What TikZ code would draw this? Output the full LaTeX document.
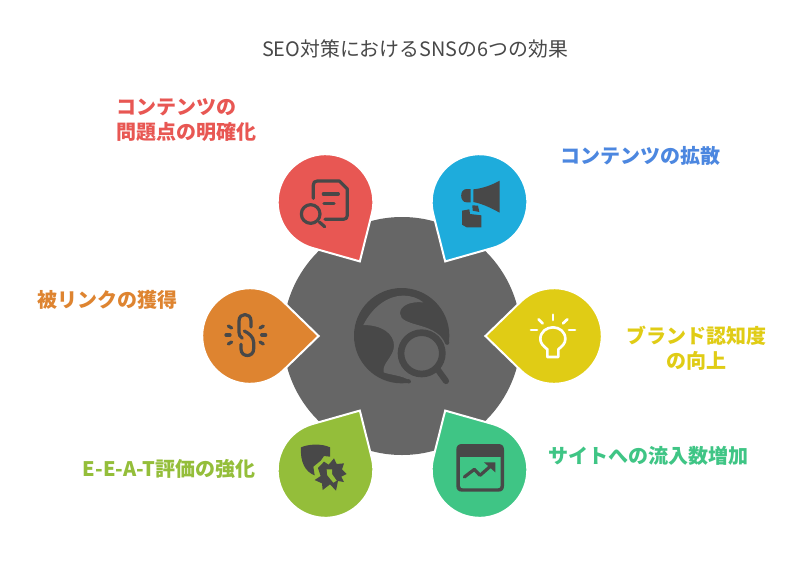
\documentclass[tikz,border=0pt]{standalone}
\usepackage{fontspec}
\setmainfont{Noto Sans CJK JP}
\definecolor{hubgray}{HTML}{666666}
\definecolor{icondark}{HTML}{484848}
\definecolor{pinred}{HTML}{E85753}
\definecolor{pinblue}{HTML}{1EACDC}
\definecolor{pinyellow}{HTML}{E0CC15}
\definecolor{pinteal}{HTML}{3FC585}
\definecolor{pinlime}{HTML}{94BE3A}
\definecolor{pinorange}{HTML}{DE8430}
\definecolor{textblue}{HTML}{4C87E0}
\tikzset{
  pinshape/.style={draw=white,line width=1.5pt,line join=miter},
  blurb/.style={font=\bfseries\fontsize{15}{18.6}\selectfont,inner sep=0pt},
  iconline/.style={draw=icondark,line width=2.4pt,line cap=round,line join=round,fill=none},
}
% center, direction of the tip, colour
\newcommand{\droplet}[3]{
  \draw[pinshape,fill=#3,shift={#1},rotate=#2]
    (68.6,0) -- (46.2:47.8) arc (46.2:313.8:47.8) -- cycle;
}
\begin{document}
\begin{tikzpicture}[x=0.75pt,y=-0.75pt]
\useasboundingbox (0,0) rectangle (804,576);
\fill[white] (0,0) rectangle (804,576);
\node[font=\fontsize{14.9}{18}\selectfont,text=icondark,inner sep=0pt] (title) at (415,48.5) {SEO対策におけるSNSの6つの効果};

\fill[hubgray] (402,336) circle (119);

\droplet{(325.5,202)}{-60}{pinred}
\droplet{(479.5,202)}{-120}{pinblue}
\droplet{(554,336)}{180}{pinyellow}
\droplet{(479.5,470)}{120}{pinteal}
\droplet{(325.5,470)}{60}{pinlime}
\droplet{(250,336)}{0}{pinorange}

% globe
\begin{scope}[shift={(340,275)},x=0.25pt,y=-0.25pt]
\fill[icondark] (185,182) circle (143);
\fill[hubgray] (70,150) .. controls (95,100) and (140,62) .. (190,62)
  .. controls (215,62) and (235,70) .. (250,82) .. controls (205,78) and (180,95) .. (180,115)
  .. controls (180,135) and (205,142) .. (240,152) .. controls (280,163) and (305,180) .. (315,205)
  -- (345,205) -- (345,340) -- (212,340) -- (212,318)
  .. controls (185,300) and (150,300) .. (131,292)
  .. controls (125,265) and (162,245) .. (162,212)
  .. controls (162,175) and (125,150) .. (70,150) -- cycle;
\fill[icondark] (321.5,203) circle (6.5);
\fill[icondark] (206,319) circle (6.5);
\draw[icondark,line width=5pt] (245,235) circle (62);
\draw[icondark,line width=4.6pt,line cap=round] (292,282) -- (318,318);
\end{scope}

% document and lens
\begin{scope}[shift={(190,140)},x=0.25pt,y=-0.25pt]
\draw[iconline] (370,175) -- (370,135) .. controls (370,127) and (374,123) .. (382,123) -- (448,123) -- (472,147) -- (472,226) .. controls (472,234) and (468,238) .. (460,238) -- (405,238);
\draw[iconline] (400,162) -- (445,162);
\draw[iconline] (402,190) -- (432,190);
\draw[iconline] (362,222) circle (28);
\draw[iconline] (388,246) -- (404,260);
\end{scope}

% megaphone
\begin{scope}[shift={(400,140)},x=0.25pt,y=-0.25pt]
\fill[icondark] (220,148) .. controls (250,145) and (275,135) .. (299,122) -- (299,218) .. controls (275,205) and (250,192) .. (220,186) -- cycle;
\fill[icondark] (212,147) -- (212,187) -- (200,187) .. controls (178,187) and (178,147) .. (200,147) -- cycle;
\fill[icondark] (217,196) -- (234,197) -- (238,216) -- (218,212) -- cycle;
\fill[icondark] (186,212) -- (208,208) -- (210,222) -- (244,226) -- (244,262) -- (200,262) -- (186,254) -- cycle;
\end{scope}

% bulb
\begin{scope}[shift={(400,140)},x=0.25pt,y=-0.25pt]
\draw[white,line width=2pt,line cap=round,line join=round] (442,651) -- (442,628) .. controls (430,618) and (421,610) .. (421,597) .. controls (421,575) and (440,562) .. (459,562) .. controls (478,562) and (496,575) .. (496,597) .. controls (496,610) and (487,618) .. (475,628) -- (475,651) -- cycle;
\draw[white,line width=2pt,line cap=round] (459,524) -- (459,540);
\draw[white,line width=2pt,line cap=round] (416,538) -- (428,550);
\draw[white,line width=2pt,line cap=round] (502,538) -- (489,550);
\draw[white,line width=2pt,line cap=round] (393,570) -- (411,570);
\draw[white,line width=2pt,line cap=round] (507,570) -- (525,570);
\end{scope}

% browser with trend
\begin{scope}[shift={(400,380)},x=0.25pt,y=-0.25pt]
\fill[icondark] (186,192) -- (295,192) .. controls (306,192) and (312,198) .. (312,209) -- (312,318) .. controls (312,329) and (306,335) .. (295,335) -- (186,335) .. controls (175,335) and (169,329) .. (169,318) -- (169,209) .. controls (169,198) and (175,192) .. (186,192) -- cycle;
\fill[pinteal] (180,231) -- (302,231) -- (302,316) .. controls (302,322) and (299,325) .. (293,325) -- (189,325) .. controls (183,325) and (180,322) .. (180,316) -- cycle;
\draw[iconline] (193,291) -- (223,268) -- (240,286) -- (272,258);
\fill[icondark] (252,247) -- (286,247) -- (286,277) -- cycle;
\end{scope}

% shield and badge
\begin{scope}[shift={(190,330)},x=0.25pt,y=-0.25pt]
\fill[icondark] (333,352) .. controls (355,342) and (395,340) .. (420,352) -- (420,380) -- (402,378) -- (392,392) -- (370,410) -- (374,436) .. controls (345,425) and (330,395) .. (333,352) -- cycle;
\fill[icondark] (402,395) -- (416,404) -- (432,385) -- (440,402) -- (462,400) -- (456,418) -- (470,432) -- (454,440) -- (462,456) -- (444,453) -- (438,482) -- (420,463) -- (398,480) -- (396,460) -- (374,450) -- (392,438) -- (384,414) -- cycle;
\fill[pinlime] (410,418) -- (426,418) -- (426,432) -- (440,452) -- (430,458) -- (412,436) -- cycle;
\end{scope}

% chain link
\begin{scope}[shift={(215,305)},x=0.25pt,y=-0.25pt]
\draw[iconline] (82,100) .. controls (75,95) and (72,90) .. (72,82) -- (72,48) .. controls (72,22) and (108,22) .. (108,48) -- (108,66);
\draw[iconline] (88,78) .. controls (100,84) and (116,95) .. (116,112) -- (116,132) .. controls (116,158) and (78,158) .. (78,132) -- (78,118);
\draw[iconline] (40,63) -- (50,69);
\draw[iconline] (33,90) -- (45,90);
\draw[iconline] (40,117) -- (50,111);
\draw[iconline] (145,63) -- (135,69);
\draw[iconline] (140,90) -- (152,90);
\draw[iconline] (145,117) -- (135,111);
\end{scope}

\node[blurb,text=pinred,anchor=west,align=left] (fixlabel) at (116,120) {コンテンツの\\問題点の明確化};
\node[blurb,text=textblue,anchor=west] (spreadlabel) at (560,156) {コンテンツの拡散};
\node[blurb,text=pinyellow,align=center] (brandlabel) at (696,348) {ブランド認知度\\の向上};
\node[blurb,text=pinteal,anchor=west] (trafficlabel) at (548,456) {サイトへの流入数増加};
\node[blurb,text=pinlime,anchor=east] (eeatlabel) at (256,469) {E-E-A-T評価の強化};
\node[blurb,text=pinorange,anchor=east] (backlinklabel) at (178,300) {被リンクの獲得};
\end{tikzpicture}
\end{document}
